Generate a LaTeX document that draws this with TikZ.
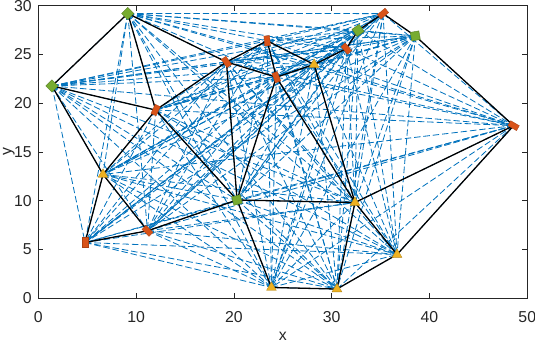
\documentclass[tikz,border=0pt]{standalone}
\usepackage{fontspec}
\setmainfont{Liberation Sans}
\usepackage{xcolor}
\usepackage{tikz}
\usetikzlibrary{
  shapes.geometric,
}

\definecolor{mblue}{rgb}{0,0.447,0.741}
\definecolor{mred}{rgb}{0.85,0.325,0.098}
\definecolor{myellow}{rgb}{0.929,0.694,0.125}
\definecolor{mgreen}{rgb}{0.466,0.674,0.188}
\definecolor{axgray}{rgb}{0.15,0.15,0.15}

\newcommand\vtxlist{G1,G2,G3,G4,G5,R1,R2,R3,R4,R5,R6,R7,R8,R9,Y1,Y2,Y3,Y4,Y5,Y6}

\begin{document}
\begin{tikzpicture}[
  x=0.2934cm, y=0.2926cm,
  font=\fontsize{13.5}{16}\selectfont,
  link/.style={mblue, line width=0.7pt, dash pattern=on 5.5pt off 2.5pt},
  edge/.style={black, line width=1.1pt},
  gmark/.style={draw=mgreen!75!black, fill=mgreen, line width=0.4pt,
                minimum size=0.26cm, inner sep=0pt},
  rmark/.style={draw=mred!80!black, fill=mred, line width=0.3pt,
                minimum width=0.17cm, minimum height=0.3cm, inner sep=0pt},
  ymark/.style={regular polygon, regular polygon sides=3,
                draw=myellow!75!black, fill=myellow, line width=0.3pt,
                minimum size=0.34cm, inner sep=0pt},
  axtick/.style={axgray, line width=0.5pt},
  axlabel/.style={text=axgray},
]
\useasboundingbox (-3.916,-4.583) rectangle (50.79,30.585);

% vertices
\coordinate (G1) at (9.15,29.2);
\coordinate (G2) at (1.4,21.77);
\coordinate (G3) at (32.7,27.47);
\coordinate (G4) at (38.55,26.9);
\coordinate (G5) at (20.32,10.08);
\coordinate (R1) at (12.0,19.3);
\coordinate (R2) at (19.24,24.23);
\coordinate (R3) at (23.4,26.4);
\coordinate (R4) at (24.34,22.67);
\coordinate (R5) at (31.5,25.6);
\coordinate (R6) at (35.25,29.19);
\coordinate (R7) at (48.6,17.7);
\coordinate (R8) at (11.17,6.92);
\coordinate (R9) at (4.78,5.72);
\coordinate (Y1) at (28.2,23.97);
\coordinate (Y2) at (6.62,12.7);
\coordinate (Y3) at (32.38,9.82);
\coordinate (Y4) at (23.84,1.11);
\coordinate (Y5) at (30.54,0.95);
\coordinate (Y6) at (36.68,4.49);

% all pairs
\foreach \a [count=\i] in \vtxlist{
  \foreach \b [count=\j] in \vtxlist{
    \ifnum\j>\i \draw[link] (\a) -- (\b); \fi
  }
}

% network
\foreach \a/\b in {G2/G1,G1/R2,G1/R1,G2/R1,G2/Y2,R1/R2,R1/Y2,R1/G5,
  R2/R3,R2/R4,R2/G5,R3/Y1,R3/R4,R4/Y1,R4/G5,R4/Y3,Y1/R5,Y1/Y3,
  R5/G3,G3/R6,R6/G4,G4/R7,R7/Y3,R7/Y6,Y3/Y6,Y3/Y5,Y5/Y6,Y4/Y5,
  G5/Y4,G5/Y3,G5/R8,R8/R9,R8/Y2,R9/Y2}{
  \draw[edge] (\a) -- (\b);
}

% markers
\foreach \v/\r in {G1/45,G2/45,G3/35,G4/10,G5/15}{
  \node[gmark, rotate=\r] (m\v) at (\v) {};
}
\foreach \v/\r in {R1/-25,R2/35,R3/5,R4/20,R5/40,R6/-50,R7/60,R8/45,R9/0}{
  \node[rmark, rotate=\r] (m\v) at (\v) {};
}
\foreach \v in {Y1,Y2,Y3,Y4,Y5,Y6}{
  \node[ymark] (m\v) at (\v) {};
}

% axes
\draw[axtick] (0,0) rectangle (50,30);
\foreach \x in {0,10,...,50}{
  \draw[axtick] (\x,0) -- (\x,0.5);
  \draw[axtick] (\x,30) -- (\x,29.5);
  \node[axlabel] (xt\x) at (\x,-1.92) {\x};
}
\foreach \y in {0,5,...,30}{
  \draw[axtick] (0,\y) -- (0.5,\y);
  \draw[axtick] (50,\y) -- (49.5,\y);
  \node[axlabel, anchor=east, inner sep=0pt] (yt\y) at (-0.65,\y) {\y};
}
\node[axlabel] (xlab) at (25,-3.9) {x};
\node[axlabel, rotate=90, inner sep=1pt] (ylab) at (-3.0,15) {y};

\end{tikzpicture}
\end{document}
